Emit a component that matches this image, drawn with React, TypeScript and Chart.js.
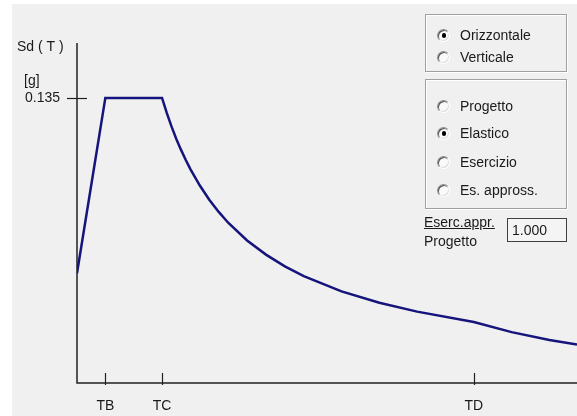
import React, { useEffect, useRef } from "react";
import { Chart, registerables } from "chart.js";
Chart.register(...registerables);

// Period T (s) and spectral value Sd(T) [g]
const periods = [0, 0.15, 0.45, 0.475, 0.5, 0.525, 0.55, 0.575, 0.6, 0.65, 0.7, 0.75, 0.8, 0.9, 1.0, 1.1, 1.2, 1.4, 1.6, 1.8, 2.1, 2.3, 2.5, 2.646];
const sdValues = [0.052, 0.135, 0.135, 0.1279, 0.1215, 0.1157, 0.1105, 0.1057, 0.1013, 0.0935, 0.0868, 0.081, 0.0759, 0.0675, 0.0608, 0.0552, 0.0506, 0.0434, 0.038, 0.0338, 0.0289, 0.0241, 0.0204, 0.0182];

const xTickValues = [0.15, 0.45, 2.1];
const xTickLabels = ["TB", "TC", "TD"];
const yTickValues = [0.135];
const yTickLabels = ["0.135"];
const X_MIN = 0;
const X_MAX = 2.646;
const Y_MIN = 0;
const Y_MAX = 0.161;

const componentLabels = ["Orizzontale", "Verticale"];
const componentSelected = 0;
const typeLabels = ["Progetto", "Elastico", "Esercizio", "Es. appross."];
const typeSelected = 1;
const ratioValue = "1.000";

const FONT = '"Liberation Sans", Arial, sans-serif';
const TEXT = "#1a1a1a";

const axesPlugin = {
  id: "spectrumAxes",
  beforeDatasetsDraw(chart: any) {
    const { ctx, chartArea } = chart;
    const xs = chart.scales.x;
    const ys = chart.scales.y;
    const x0 = xs.getPixelForValue(X_MIN);
    const yb = ys.getPixelForValue(Y_MIN);
    ctx.save();
    ctx.strokeStyle = "#202020";
    ctx.lineWidth = 1.5;
    ctx.beginPath();
    ctx.moveTo(x0, chartArea.top);
    ctx.lineTo(x0, yb);
    ctx.lineTo(chartArea.right, yb);
    ctx.stroke();
    ctx.lineWidth = 1.2;
    xTickValues.forEach((v) => {
      const px = Math.round(xs.getPixelForValue(v)) + 0.5;
      ctx.beginPath();
      ctx.moveTo(px, yb - 10);
      ctx.lineTo(px, yb + 2);
      ctx.stroke();
    });
    yTickValues.forEach((v) => {
      const py = Math.round(ys.getPixelForValue(v)) + 0.5;
      ctx.beginPath();
      ctx.moveTo(x0 - 10, py);
      ctx.lineTo(x0 + 10, py);
      ctx.stroke();
    });
    ctx.fillStyle = TEXT;
    ctx.font = "14px " + FONT;
    ctx.textAlign = "center";
    ctx.textBaseline = "middle";
    xTickValues.forEach((v, i) => {
      ctx.fillText(xTickLabels[i], xs.getPixelForValue(v), yb + 23);
    });
    ctx.textAlign = "right";
    yTickValues.forEach((v, i) => {
      ctx.fillText(yTickLabels[i], x0 - 17, ys.getPixelForValue(v));
    });
    ctx.textAlign = "left";
    ctx.fillText("[g]", x0 - 53, ys.getPixelForValue(yTickValues[0]) - 17);
    ctx.fillText("Sd ( T )", x0 - 60, chartArea.top + 4);
    ctx.restore();
  },
};

function Radio({ label, checked, top }: { label: string; checked: boolean; top: number }) {
  return (
    <div style={{ position: "absolute", left: 437, top: top - 7, height: 14, display: "flex", alignItems: "center" }}>
      <div
        style={{
          width: 11,
          height: 11,
          borderRadius: "50%",
          background: "#fafafa",
          borderTop: "1px solid #909090",
          borderLeft: "1px solid #909090",
          borderRight: "1px solid #ffffff",
          borderBottom: "1px solid #ffffff",
          boxShadow: "inset 1px 1px 0 #505050, inset -1px -1px 0 #dcdcdc",
          position: "relative",
          boxSizing: "content-box",
        }}
      >
        {checked && (
          <div style={{ position: "absolute", left: 3.5, top: 3.5, width: 4.5, height: 4.5, borderRadius: "50%", background: "#000" }} />
        )}
      </div>
      <span style={{ position: "absolute", left: 23, whiteSpace: "nowrap", font: "14px " + FONT, color: TEXT, lineHeight: "14px" }}>
        {label}
      </span>
    </div>
  );
}

const groupStyle = (top: number, height: number): React.CSSProperties => ({
  position: "absolute",
  left: 425,
  top,
  width: 142,
  height,
  border: "1px solid #a0a0a0",
  boxShadow: "inset 1px 1px 0 #ffffff, 1px 1px 0 #ffffff",
  boxSizing: "border-box",
});

export default function App() {
  const ref = useRef<HTMLCanvasElement | null>(null);
  useEffect(() => {
    if (!ref.current) return;
    const chart = new Chart(ref.current, {
      type: "line",
      data: {
        datasets: [
          {
            data: periods.map((t, i) => ({ x: t, y: sdValues[i] })),
            borderColor: "#14147c",
            borderWidth: 2.5,
            pointRadius: 0,
            tension: 0,
            fill: false,
          },
        ],
      },
      options: {
        animation: false,
        responsive: false,
        devicePixelRatio: 1,
        layout: { padding: { left: 77, top: 43, right: 0, bottom: 33 } },
        scales: {
          x: { type: "linear", min: X_MIN, max: X_MAX, display: false },
          y: { type: "linear", min: Y_MIN, max: Y_MAX, display: false },
        },
        plugins: { legend: { display: false }, tooltip: { enabled: false } },
      },
      plugins: [axesPlugin],
    });
    return () => chart.destroy();
  }, []);

  return (
    <div style={{ position: "fixed", left: 0, top: 0, width: 577, height: 416, background: "#ffffff", overflow: "hidden" }}>
      <div style={{ position: "absolute", left: 12, top: 4, right: 0, bottom: 0, background: "#f0f0f0" }} />
      <canvas ref={ref} width={577} height={416} style={{ position: "absolute", left: 0, top: 0, width: 577, height: 416 }} />
      <div style={groupStyle(14, 58)} />
      <div style={groupStyle(79, 130)} />
      {componentLabels.map((l, i) => (
        <Radio key={l} label={l} checked={i === componentSelected} top={[35, 57][i]} />
      ))}
      {typeLabels.map((l, i) => (
        <Radio key={l} label={l} checked={i === typeSelected} top={[106, 133, 162, 190][i]} />
      ))}
      <div style={{ position: "absolute", left: 424, top: 214, font: "14px " + FONT, color: TEXT, textDecoration: "underline", whiteSpace: "nowrap" }}>
        Eserc.appr.
      </div>
      <div style={{ position: "absolute", left: 424, top: 233, font: "14px " + FONT, color: TEXT, whiteSpace: "nowrap" }}>
        Progetto
      </div>
      <div
        style={{
          position: "absolute",
          left: 507,
          top: 218,
          width: 60,
          height: 24,
          border: "1px solid #404040",
          boxSizing: "border-box",
          background: "#f4f4f4",
          font: "14px " + FONT,
          color: TEXT,
          lineHeight: "22px",
          paddingLeft: 4,
        }}
      >
        {ratioValue}
      </div>
    </div>
  );
}
